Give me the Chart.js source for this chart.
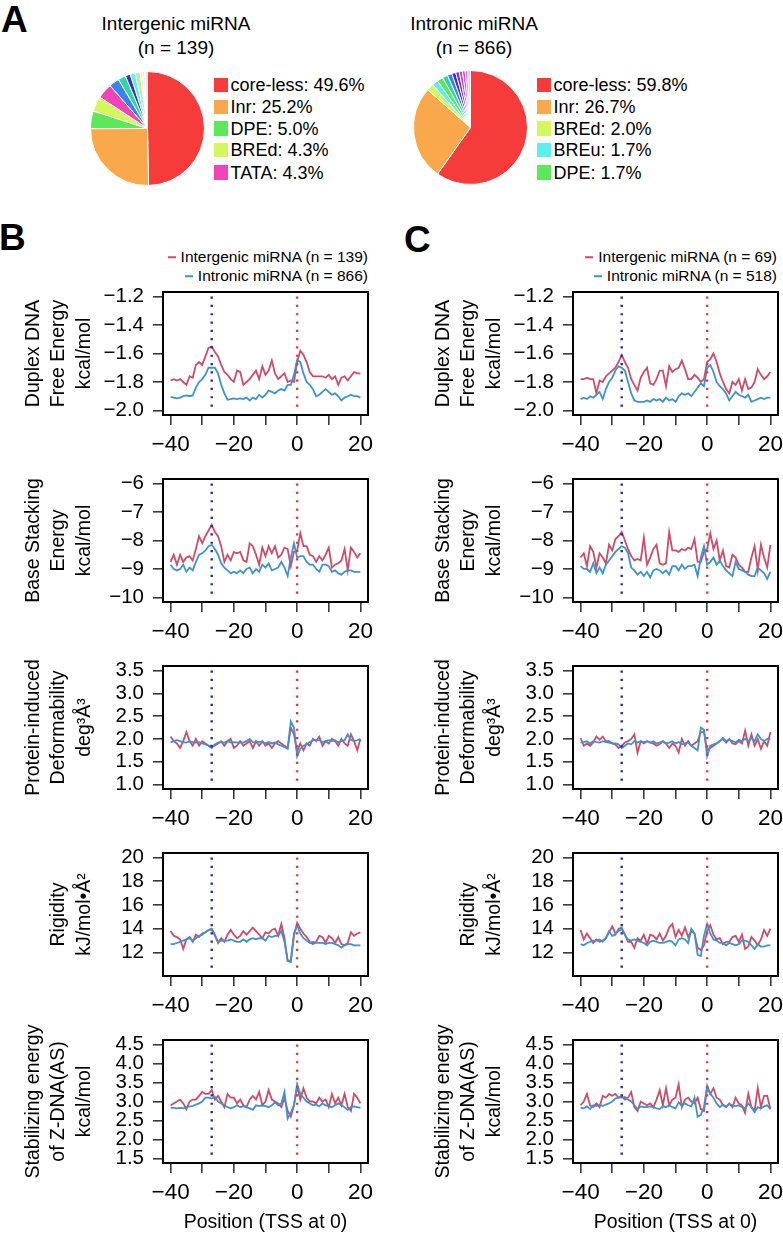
<!DOCTYPE html>
<html><head><meta charset="utf-8">
<script src="https://cdn.jsdelivr.net/npm/chart.js@4.4.1/dist/chart.umd.min.js"></script>
<style>
html,body{margin:0;padding:0;background:#fff;overflow:hidden;width:783px;height:1237px;}
body{position:relative;font-family:"Liberation Sans",Arial,Helvetica,sans-serif;color:#000;}
canvas{position:absolute;}
.t{position:absolute;white-space:nowrap;line-height:1;transform:translateY(-50%);}
.lg{display:flex;align-items:center;}
.sq{display:inline-block;width:14px;height:14.5px;margin-right:2.5px;}
.ds{display:inline-block;width:8px;height:2px;margin-right:5px;}
.letter{position:absolute;font-weight:bold;font-size:37px;line-height:1;}
</style></head><body>
<script>
// ---------- DATA ----------
const positions = [-40,-39,-38,-37,-36,-35,-34,-33,-32,-31,-30,-29,-28,-27,-26,-25,-24,-23,-22,-21,-20,-19,-18,-17,-16,-15,-14,-13,-12,-11,-10,-9,-8,-7,-6,-5,-4,-3,-2,-1,0,1,2,3,4,5,6,7,8,9,10,11,12,13,14,15,16,17,18,19,20];
const xTicks = [-40,-30,-20,-10,0,10,20];
const tataPos = -27;
const tssPos = 0;

// Panel A pies
const interLabels = ["core-less","Inr","DPE","BREd","TATA","other1","other2","other3","other4","other5","other6","other7","other8"];
const interShares = [49.6,25.2,5.0,4.3,4.3,2.9,2.2,1.4,1.4,1.4,0.7,0.7,0.7];
const interColors = ["#F63B3B","#F9A94B","#5BE85B","#D4F75C","#F044B8","#3A82F0","#2ED8A0","#3A2AD8","#5AF0F0","#B8F0A8","#F4F4A0","#D8EEF8","#F8E0F0"];
const intronLabels = ["core-less","Inr","BREd","BREu","DPE","other1","other2","other3","other4","other5","other6","other7","other8"];
const intronShares = [59.8,26.7,2.0,1.7,1.7,1.5,1.3,1.1,1.0,0.9,0.8,0.7,0.8];
const intronColors = ["#F63B3B","#F9A94B","#D4F75C","#5AF0F0","#5BE85B","#2ED8A0","#3A82F0","#3A2AD8","#7A2BE2","#C040E0","#F044B8","#F070C0","#F8C0E0"];

// Row 1: duplex DNA free energy
const duplexB_inter = [-1.79,-1.78,-1.79,-1.78,-1.80,-1.82,-1.76,-1.77,-1.68,-1.66,
 -1.68,-1.62,-1.56,-1.55,-1.59,-1.62,-1.68,-1.73,-1.75,-1.78,
 -1.80,-1.72,-1.73,-1.82,-1.80,-1.78,-1.75,-1.72,-1.78,-1.69,
 -1.75,-1.72,-1.65,-1.74,-1.78,-1.76,-1.74,-1.80,-1.79,-1.80,
 -1.66,-1.58,-1.61,-1.66,-1.73,-1.76,-1.76,-1.76,-1.76,-1.77,
 -1.75,-1.78,-1.76,-1.82,-1.77,-1.76,-1.79,-1.76,-1.73,-1.74,
 -1.74];
const duplexB_intron = [-1.905,-1.91,-1.915,-1.91,-1.90,-1.895,-1.90,-1.895,-1.84,-1.80,
 -1.78,-1.75,-1.70,-1.70,-1.70,-1.74,-1.82,-1.88,-1.925,-1.92,
 -1.915,-1.92,-1.915,-1.92,-1.91,-1.93,-1.91,-1.92,-1.89,-1.91,
 -1.89,-1.86,-1.87,-1.88,-1.86,-1.85,-1.86,-1.82,-1.82,-1.75,
 -1.645,-1.66,-1.74,-1.80,-1.82,-1.85,-1.90,-1.89,-1.87,-1.85,
 -1.87,-1.89,-1.88,-1.90,-1.93,-1.91,-1.90,-1.89,-1.90,-1.90,
 -1.91];
const duplexC_inter = [-1.78,-1.78,-1.77,-1.78,-1.78,-1.88,-1.79,-1.80,-1.76,-1.74,
 -1.72,-1.70,-1.66,-1.61,-1.66,-1.70,-1.78,-1.82,-1.86,-1.77,
 -1.73,-1.70,-1.81,-1.82,-1.78,-1.72,-1.72,-1.83,-1.69,-1.73,
 -1.71,-1.70,-1.65,-1.71,-1.78,-1.78,-1.75,-1.77,-1.80,-1.78,
 -1.66,-1.64,-1.60,-1.66,-1.74,-1.80,-1.85,-1.88,-1.80,-1.82,
 -1.78,-1.86,-1.78,-1.85,-1.84,-1.80,-1.71,-1.75,-1.78,-1.76,
 -1.73];
const duplexC_intron = [-1.92,-1.91,-1.92,-1.90,-1.91,-1.89,-1.87,-1.92,-1.85,-1.80,
 -1.77,-1.72,-1.69,-1.70,-1.72,-1.80,-1.88,-1.93,-1.94,-1.94,
 -1.94,-1.93,-1.94,-1.92,-1.93,-1.92,-1.94,-1.91,-1.93,-1.92,
 -1.94,-1.90,-1.88,-1.89,-1.88,-1.90,-1.87,-1.84,-1.81,-1.83,
 -1.70,-1.68,-1.73,-1.80,-1.83,-1.85,-1.88,-1.93,-1.90,-1.87,
 -1.89,-1.90,-1.91,-1.89,-1.94,-1.93,-1.92,-1.91,-1.92,-1.91,
 -1.91];

// Row 2: base stacking energy
const stackB_inter = [-8.75,-8.5,-8.85,-8.5,-8.75,-8.6,-8.55,-8.7,-8.3,-7.85,
 -8.1,-7.85,-7.65,-7.45,-7.7,-7.85,-8.2,-8.75,-8.5,-8.7,
 -8.4,-8.45,-8.4,-8.7,-8.75,-8.1,-8.2,-8.5,-8.85,-8.25,
 -8.55,-8.2,-8.45,-8.2,-8.6,-8.5,-8.25,-8.3,-8.9,-8.4,
 -8.35,-7.75,-8.2,-8.2,-8.5,-8.55,-8.75,-8.55,-8.7,-8.5,
 -8.25,-8.95,-8.85,-8.8,-8.7,-8.3,-9.05,-8.25,-8.4,-8.6,
 -8.45];
const stackB_intron = [-8.85,-9.0,-9.05,-9.0,-8.85,-9.1,-8.95,-9.05,-8.75,-8.5,
 -8.45,-8.35,-8.2,-8.15,-8.3,-8.5,-8.8,-8.95,-9.05,-9.15,
 -9.1,-9.15,-9.05,-9.15,-9.0,-8.95,-9.15,-9.0,-9.1,-8.85,
 -8.95,-8.8,-9.05,-9.0,-8.95,-8.75,-8.95,-9.25,-8.6,-8.1,
 -8.6,-8.55,-8.55,-8.75,-8.85,-8.85,-9.0,-9.1,-8.85,-8.85,
 -8.9,-9.1,-9.05,-9.15,-9.2,-9.1,-9.05,-9.05,-9.1,-9.1,
 -9.1];
const stackC_inter = [-8.6,-8.45,-8.9,-8.2,-8.4,-8.95,-8.45,-8.6,-8.8,-8.15,
 -8.35,-7.95,-7.85,-7.7,-8.0,-8.3,-8.55,-8.7,-8.65,-8.7,
 -7.9,-8.85,-8.6,-8.3,-8.15,-8.8,-8.85,-8.8,-7.7,-8.35,
 -8.35,-8.4,-8.3,-8.35,-8.25,-8.3,-7.95,-8.75,-8.75,-8.4,
 -8.3,-7.75,-8.3,-8.0,-8.7,-8.35,-8.9,-8.95,-8.5,-8.6,
 -8.85,-8.95,-9.1,-9.1,-8.6,-8.2,-9.05,-8.15,-8.6,-8.95,
 -8.15];
const stackC_intron = [-8.9,-9.0,-9.0,-9.1,-8.8,-9.15,-8.95,-9.15,-8.85,-8.7,
 -8.55,-8.4,-8.3,-8.2,-8.25,-8.45,-8.95,-9.05,-9.2,-9.1,
 -9.25,-9.1,-9.3,-9.05,-9.0,-9.05,-9.15,-9.05,-9.2,-8.9,
 -8.9,-9.05,-8.85,-9.0,-8.9,-8.9,-8.85,-9.25,-8.6,-8.2,
 -8.85,-8.75,-8.6,-8.85,-8.7,-8.9,-9.05,-9.15,-9.25,-8.75,
 -9.0,-9.05,-9.1,-9.2,-9.25,-9.25,-8.95,-9.05,-9.15,-9.35,
 -9.1];

// Row 3: protein-induced deformability
const deformB_inter = [2.05,1.95,1.9,1.8,1.95,2.15,1.95,1.85,2.0,1.85,
 1.95,1.9,1.85,1.85,1.85,1.9,1.95,1.85,1.95,2.0,
 1.8,1.85,1.95,1.85,1.9,1.95,1.8,1.95,1.85,1.95,
 1.85,1.9,1.8,1.9,1.95,1.9,1.85,1.8,2.25,2.1,
 1.72,1.9,1.75,1.9,1.85,2.0,1.95,2.05,1.85,1.95,
 1.9,2.0,1.95,1.85,2.0,1.9,1.85,2.1,1.95,1.75,
 2.0];
const deformB_intron = [1.92,1.95,1.97,1.95,1.93,1.92,1.95,1.93,1.92,1.93,
 1.9,1.88,1.85,1.8,1.88,1.92,1.93,1.92,1.95,1.92,
 1.93,1.92,1.93,1.92,1.95,2.0,1.93,1.92,1.94,1.93,
 1.9,1.93,1.9,1.92,1.88,1.85,1.82,1.78,2.38,2.25,
 1.62,1.78,1.85,1.88,1.93,1.97,1.98,1.97,1.93,1.95,
 1.97,1.95,1.97,1.92,1.95,1.97,2.1,1.98,1.95,1.97,
 2.0];
const deformC_inter = [2.02,1.85,1.9,1.85,1.92,2.05,1.98,2.05,1.95,1.95,
 1.9,1.88,1.8,1.85,1.92,1.95,2.0,2.1,1.7,1.95,
 1.9,1.95,1.92,1.9,1.85,1.88,1.95,1.9,1.8,1.9,
 1.85,1.7,2.0,1.85,1.95,1.85,1.9,1.95,2.15,2.15,
 1.75,1.8,1.85,1.9,1.95,2.0,1.92,2.0,1.9,1.88,
 1.95,1.9,2.18,1.85,2.1,1.85,2.0,1.78,1.95,1.85,
 2.15];
const deformC_intron = [1.92,1.93,1.95,1.9,1.95,1.93,1.92,1.95,1.93,1.92,
 1.9,1.9,1.88,1.8,1.85,1.9,1.88,1.95,1.92,1.95,
 1.93,1.95,1.92,1.95,1.9,1.92,1.95,1.9,1.92,1.95,
 1.9,1.93,1.88,1.9,1.92,1.85,1.8,1.75,2.25,2.2,
 1.62,1.85,1.88,1.9,1.95,2.02,1.95,1.98,1.95,1.92,
 1.98,1.95,2.0,1.95,2.02,1.95,2.1,2.0,1.95,2.0,
 2.0];

// Row 4: rigidity
const rigidB_inter = [13.8,13.4,13.3,13.1,12.3,13.1,13.3,12.9,13.5,13.3,
 13.6,13.7,13.9,14.0,13.5,12.8,13.2,12.9,13.5,13.9,
 13.5,13.2,13.4,13.8,13.5,13.8,14.1,13.8,13.5,13.2,
 13.7,13.6,13.9,14.0,13.4,14.4,13.2,11.3,11.3,13.4,
 14.5,14.0,13.6,13.3,12.9,12.7,12.9,13.4,13.3,12.8,
 13.4,13.2,12.8,13.3,12.7,12.6,12.8,13.7,13.4,13.6,
 13.7];
const rigidB_intron = [12.7,12.7,12.8,12.9,13.0,13.1,13.2,13.0,13.2,13.4,
 13.5,13.7,13.9,13.9,13.4,12.9,13.0,13.0,13.0,13.1,
 13.0,12.9,12.9,13.1,12.9,13.1,13.2,13.1,13.2,13.2,
 13.0,13.4,13.3,13.4,13.4,13.8,12.9,11.3,11.2,13.6,
 14.3,13.6,13.2,13.0,12.8,12.9,12.8,12.8,12.8,12.7,
 12.8,12.8,12.7,12.6,12.4,12.6,12.7,12.7,12.6,12.6,
 12.6];
const rigidC_inter = [13.9,13.1,13.6,13.2,12.8,13.1,12.9,13.0,13.2,13.7,
 14.2,13.6,13.8,14.0,13.5,12.9,12.9,12.4,13.2,13.0,
 13.5,12.7,13.5,13.4,13.1,13.6,13.0,13.4,14.1,14.4,
 13.3,13.9,13.4,14.1,13.3,13.8,13.6,12.4,12.2,12.6,
 13.8,14.3,13.5,13.1,13.2,12.7,12.9,12.9,13.3,13.4,
 12.9,13.5,12.3,12.5,13.3,13.0,12.6,13.1,13.9,13.4,
 14.0];
const rigidC_intron = [12.7,12.6,12.8,12.9,13.0,13.0,13.1,12.9,13.2,13.8,
 13.4,13.5,14.0,14.1,13.5,13.1,13.0,13.1,13.0,12.9,
 12.8,12.6,12.9,13.0,12.9,12.8,12.8,12.9,13.0,12.9,
 12.6,13.1,13.2,13.1,12.8,14.0,13.6,11.8,11.7,13.4,
 14.4,13.6,13.1,13.0,12.8,12.8,12.6,12.8,12.7,12.6,
 12.7,13.0,13.0,12.9,12.6,12.3,12.7,12.5,12.5,12.6,
 12.6];

// Row 5: Z-DNA stabilizing energy
const zdnaB_inter = [2.9,2.95,3.0,3.05,2.95,2.8,3.0,3.05,3.05,3.15,
 3.25,3.2,3.2,3.3,3.05,3.15,3.0,2.85,3.2,3.1,
 3.1,2.95,3.05,2.9,2.85,3.05,3.15,3.05,3.25,2.9,
 3.0,3.3,3.05,3.0,2.95,2.85,3.1,2.75,2.6,2.9,
 3.4,3.05,3.35,3.1,3.0,3.0,2.95,3.1,3.0,3.05,
 2.85,3.2,2.95,3.1,2.9,3.2,2.85,2.75,3.2,3.1,
 2.95];
const zdnaB_intron = [2.83,2.83,2.82,2.83,2.82,2.85,2.87,2.88,2.92,2.95,
 3.0,3.1,3.1,3.08,3.12,3.0,2.95,2.9,2.85,2.82,
 2.85,2.9,2.85,2.88,2.85,2.82,2.78,2.9,2.88,2.9,
 2.88,2.85,2.9,2.98,2.9,2.95,3.25,2.55,2.7,2.9,
 3.45,3.2,3.1,3.0,2.95,2.9,2.92,2.87,2.95,2.9,
 2.88,2.85,2.9,2.95,2.9,2.85,2.78,2.85,2.87,2.85,
 2.83];
const zdnaC_inter = [2.9,3.0,3.2,2.9,2.85,2.95,2.85,3.15,3.1,3.2,
 3.15,3.2,3.1,3.15,3.05,3.1,3.25,2.85,2.75,3.0,
 2.95,2.9,2.95,2.85,3.05,3.3,2.9,3.35,2.9,3.05,
 3.1,3.45,2.85,3.05,3.1,3.0,2.95,3.1,2.8,2.75,
 3.35,3.2,3.35,3.1,3.05,2.9,2.85,2.95,2.85,3.1,
 2.95,2.9,2.7,3.2,2.85,2.75,3.35,2.85,3.15,3.15,
 2.8];
const zdnaC_intron = [2.83,2.82,2.87,2.8,2.9,2.88,2.92,2.88,2.92,2.95,
 3.0,3.08,3.1,3.1,3.12,3.05,3.0,2.9,2.8,2.87,
 2.85,2.85,2.87,2.85,2.82,2.8,2.88,2.85,2.9,2.85,
 2.82,2.98,2.88,2.95,2.9,2.87,3.1,2.6,2.65,2.85,
 3.42,3.2,3.1,2.95,2.85,2.92,2.87,2.93,2.9,2.88,
 2.9,2.85,2.82,2.95,2.85,2.72,2.85,2.82,2.87,2.9,
 2.8];

// y-axis tick labels and ranges per row
const duplexTicks = [-2.0,-1.8,-1.6,-1.4,-1.2];
const stackTicks = [-10,-9,-8,-7,-6];
const deformTicks = [1.0,1.5,2.0,2.5,3.0,3.5];
const rigidTicks = [12,14,16,18,20];
const zdnaTicks = [1.5,2.0,2.5,3.0,3.5,4.0,4.5];
const duplexRange = [-2.0,-1.2];
const stackRange = [-10,-6];
const deformRange = [1.0,3.5];
const rigidRange = [10.4,20];
const zdnaRange = [1.5,4.5];

const rowTitles = [
  ["Duplex DNA","Free Energy","kcal/mol"],
  ["Base Stacking","Energy","kcal/mol"],
  ["Protein-induced","Deformability","deg\u00B3\u00C5\u00B3"],
  ["","Rigidity","kJ/mol\u2022\u00C5\u00B2"],
  ["Stabilizing energy","of Z-DNA(AS)","kcal/mol"]
];
const xTitle = "Position (TSS at 0)";

// ---------- LAYOUT / STYLE ----------
const FAM = '"Liberation Sans", Arial, Helvetica, sans-serif';
const RED = '#CF4B68', BLUE = '#3D93D0', DOT_BLUE = '#2626B8', DOT_RED = '#E23A36';
const rowTops = [292, 479, 666, 853, 1040];
const BOX_H = 123, PAD_TOP = 40, Y_W = 163, BOX_W = 205, PAD_R = 12;

function el(tag, cls, style, html){
  const e = document.createElement(tag);
  if (cls) e.className = cls;
  if (style) e.style.cssText = style;
  if (html !== undefined) e.innerHTML = html;
  document.body.appendChild(e);
  return e;
}
function fmt(v, d){ return (v < 0 ? '\u2212' : '') + Math.abs(v).toFixed(d); }

const boxPlugin = {id:'box', afterDraw(chart){
  const {ctx, chartArea:a} = chart;
  ctx.save(); ctx.strokeStyle = '#000'; ctx.lineWidth = 2;
  ctx.strokeRect(a.left, a.top, a.right - a.left, a.bottom - a.top);
  ctx.restore();
}};

function lineChart(left, row, inter, intron, ticks, range, dec, isLast){
  const xh = isLast ? 92 : 60;
  const c = document.createElement('canvas');
  const W = Y_W + BOX_W + PAD_R, H = PAD_TOP + BOX_H + xh;
  c.width = W; c.height = H;
  c.style.left = left + 'px'; c.style.top = (rowTops[row] - PAD_TOP) + 'px';
  c.style.width = W + 'px'; c.style.height = H + 'px';
  document.body.appendChild(c);
  const span = range[1] - range[0];
  const ymin = range[0] - 0.04 * span, ymax = range[1] + 0.04 * span;
  const grid = {drawOnChartArea:false, drawTicks:true, tickLength:10, color:'#3a3a3a', lineWidth:1.6};
  new Chart(c, {
    type:'line',
    data:{datasets:[
      {label:'tata', data:[{x:tataPos,y:range[1]},{x:tataPos,y:range[0]}], borderColor:DOT_BLUE, borderWidth:2.4, borderDash:[2.2,6.1], pointRadius:0, order:0},
      {label:'tss', data:[{x:tssPos,y:range[1]},{x:tssPos,y:range[0]}], borderColor:DOT_RED, borderWidth:2.4, borderDash:[2.2,6.1], pointRadius:0, order:0},
      {label:'Intronic miRNA', data:positions.map((p,i)=>({x:p,y:intron[i]})), borderColor:BLUE, borderWidth:1.8, pointRadius:0, tension:0, order:1},
      {label:'Intergenic miRNA', data:positions.map((p,i)=>({x:p,y:inter[i]})), borderColor:RED, borderWidth:1.8, pointRadius:0, tension:0, order:2}
    ]},
    options:{
      responsive:false, animation:false, events:[],
      layout:{padding:{top:PAD_TOP, right:PAD_R, left:0, bottom:0}},
      plugins:{legend:{display:false}, tooltip:{enabled:false}},
      scales:{
        x:{type:'linear', min:-42.4, max:22.4,
          afterBuildTicks:s=>{ s.ticks = xTicks.map(v=>({value:v})); },
          afterFit:s=>{ s.height = xh; },
          ticks:{autoSkip:false, maxRotation:0, padding:6, color:'#000', font:{size:22.5, family:FAM},
            callback:v=> (v % 20 === 0 ? fmt(v,0) : '')},
          grid:grid, border:{display:false},
          title:{display:isLast, text:xTitle, color:'#000', font:{size:19.5, family:FAM, lineHeight:1.2}, padding:{top:0, bottom:20.3}}
        },
        y:{type:'linear', min:ymin, max:ymax,
          afterBuildTicks:s=>{ s.ticks = ticks.map(v=>({value:v})); },
          afterFit:s=>{ s.width = Y_W; },
          ticks:{autoSkip:false, padding:9, color:'#000', font:{size:20.5, family:FAM}, callback:v=>fmt(v,dec)},
          grid:grid, border:{display:false},
          title:{display:true, text:rowTitles[row], color:'#000', font:{size:19.5, family:FAM, lineHeight:1.3}, padding:{top:21, bottom:0}}
        }
      }
    },
    plugins:[boxPlugin]
  });
}

function pieChart(left, top, size, labels, shares, colors){
  const c = document.createElement('canvas');
  c.width = size; c.height = size;
  c.style.left = left + 'px'; c.style.top = top + 'px';
  c.style.width = size + 'px'; c.style.height = size + 'px';
  document.body.appendChild(c);
  new Chart(c, {
    type:'pie',
    data:{labels:labels, datasets:[{data:shares, backgroundColor:colors, borderColor:'#fff', borderWidth:1, hoverOffset:0, hoverBorderWidth:1}]},
    options:{responsive:false, animation:false, events:[], layout:{padding:0},
      plugins:{legend:{display:false}, tooltip:{enabled:false}}}
  });
}

// ---------- PANEL LETTERS ----------
el('div','letter','left:1px;top:1px;','A');
el('div','letter','left:-1px;top:219px;','B');
el('div','letter','left:404px;top:221px;','C');

// ---------- PANEL A ----------
el('div','t','left:176px;top:23px;font-size:19px;transform:translate(-50%,-50%);','Intergenic miRNA');
el('div','t','left:176px;top:47px;font-size:19px;transform:translate(-50%,-50%);','(n = 139)');
el('div','t','left:474px;top:23px;font-size:19px;transform:translate(-50%,-50%);','Intronic miRNA');
el('div','t','left:474px;top:47px;font-size:19px;transform:translate(-50%,-50%);','(n = 866)');
pieChart(90, 71, 115, interLabels, interShares, interColors);
pieChart(413, 70, 115, intronLabels, intronShares, intronColors);
const legendYs = [85, 107, 128.5, 150, 172.5];
for (let i = 0; i < 5; i++){
  el('div','t lg','left:214px;top:'+legendYs[i]+'px;font-size:18px;',
    '<span class="sq" style="background:'+interColors[i]+'"></span>'+interLabels[i]+': '+interShares[i].toFixed(1)+'%');
  el('div','t lg','left:537px;top:'+legendYs[i]+'px;font-size:18px;',
    '<span class="sq" style="background:'+intronColors[i]+'"></span>'+intronLabels[i]+': '+intronShares[i].toFixed(1)+'%');
}

// ---------- LINE LEGENDS ----------
function lineLegend(rightX, items){
  const ys = [257, 276];
  items.forEach((it, i)=>{
    el('div','t lg','right:'+(783-rightX)+'px;top:'+ys[i]+'px;font-size:15.5px;',
      '<span class="ds" style="background:'+it[1]+'"></span>'+it[0]);
  });
}
lineLegend(368, [["Intergenic miRNA (n = 139)", RED], ["Intronic miRNA (n = 866)", BLUE]]);
lineLegend(777, [["Intergenic miRNA (n = 69)", RED], ["Intronic miRNA (n = 518)", BLUE]]);

// ---------- PANELS B & C ----------
const rowsB = [[duplexB_inter,duplexB_intron],[stackB_inter,stackB_intron],[deformB_inter,deformB_intron],[rigidB_inter,rigidB_intron],[zdnaB_inter,zdnaB_intron]];
const rowsC = [[duplexC_inter,duplexC_intron],[stackC_inter,stackC_intron],[deformC_inter,deformC_intron],[rigidC_inter,rigidC_intron],[zdnaC_inter,zdnaC_intron]];
const rowTicks = [duplexTicks, stackTicks, deformTicks, rigidTicks, zdnaTicks];
const rowRanges = [duplexRange, stackRange, deformRange, rigidRange, zdnaRange];
const rowDec = [1,0,1,0,1];
for (let r = 0; r < 5; r++){
  lineChart(0, r, rowsB[r][0], rowsB[r][1], rowTicks[r], rowRanges[r], rowDec[r], r === 4);
  lineChart(410, r, rowsC[r][0], rowsC[r][1], rowTicks[r], rowRanges[r], rowDec[r], r === 4);
}
</script>
</body></html>
